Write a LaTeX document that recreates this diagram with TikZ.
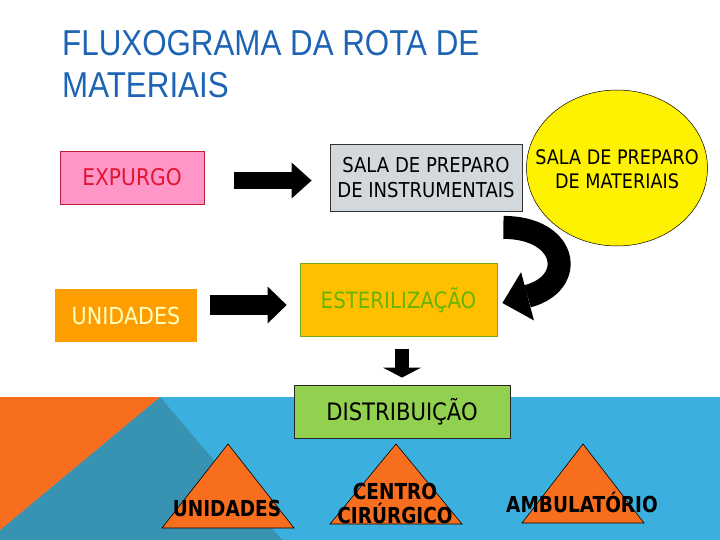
\documentclass[tikz,border=0pt]{standalone}
\usepackage{fontspec}
\usetikzlibrary{shapes.geometric,arrows.meta,calc}

\newfontfamily\titlefont[FakeStretch=0.87]{Liberation Sans}
\newfontfamily\boxfont[FakeStretch=0.88]{DejaVu Sans}
\newfontfamily\trifont[FakeStretch=0.84]{DejaVu Sans}
\newcommand{\fsz}[2]{\fontsize{#1}{#2}\selectfont}

\definecolor{titleblue}{RGB}{30,100,180}
\definecolor{bandblue}{RGB}{59,176,222}
\definecolor{bandteal}{RGB}{56,146,178}
\definecolor{bandorange}{RGB}{247,110,30}
\definecolor{pinkfill}{RGB}{255,150,200}
\definecolor{pinkline}{RGB}{190,30,60}
\definecolor{pinktext}{RGB}{225,20,50}
\definecolor{grayfill}{RGB}{210,216,220}
\definecolor{orangefill}{RGB}{255,158,0}
\definecolor{palecream}{RGB}{255,255,190}
\definecolor{amberfill}{RGB}{255,192,0}
\definecolor{greenline}{RGB}{110,170,30}
\definecolor{greentext}{RGB}{100,180,0}
\definecolor{limefill}{RGB}{146,208,80}

\begin{document}
\begin{tikzpicture}[
        x=1pt, y=-1pt,
        box/.style={rectangle, draw, line width=0.8pt, inner sep=0pt, align=center},
        bigarrow/.style n args={2}{black, -{Triangle[width=#1pt, length=#2pt, line width=0pt]}},
        tri/.style={fill=bandorange, draw=black, line width=0.6pt},
        tritext/.style={font=\trifont\bfseries\fsz{22}{24}, align=center, inner sep=0pt}
    ]
    \useasboundingbox (0,0) rectangle (720,540);

% --- Background band ---
    \fill[bandblue] (0,397) rectangle (720,540);
    \fill[bandteal] (160,397) -- (282,540) -- (0,540) -- (0,530) -- cycle;
    \fill[bandorange] (0,397) -- (160,397) -- (0,530) -- cycle;

% --- Title ---
    \node[anchor=north west, inner sep=0pt, align=left, text=titleblue,
          font=\titlefont\fsz{36}{42}] (title) at (62,30)
        {FLUXOGRAMA DA ROTA DE\\MATERIAIS};

% --- Top row ---
    \node[box, fill=pinkfill, draw=pinkline, text=pinktext, font=\boxfont\fsz{23}{27},
          minimum width=144pt, minimum height=53pt] (expurgo) at (132,177.5) {EXPURGO};
    \node[box, fill=grayfill, draw=black!80, font=\boxfont\fsz{20.5}{25},
          minimum width=192pt, minimum height=67pt] (sala) at (426,177.5)
        {SALA DE PREPARO\\DE INSTRUMENTAIS};
    \node[ellipse, draw, line width=0.5pt, fill=yellow, inner sep=0pt,
          minimum width=181pt, minimum height=156pt,
          label={[font=\boxfont\fsz{20}{24}, align=center, inner sep=0pt, yshift=-1pt]center:SALA DE PREPARO\\DE MATERIAIS}]
          (materiais) at (617,168) {};

% --- Middle row ---
    \node[box, draw=none, fill=orangefill, text=palecream, font=\boxfont\fsz{23.5}{27},
          minimum width=142pt, minimum height=53pt] (unidades) at (126,315.5) {UNIDADES};
    \node[box, fill=amberfill, draw=greenline, text=greentext, font=\boxfont\fsz{22.5}{27},
          minimum width=197pt, minimum height=73pt] (ester) at (398.5,300) {ESTERILIZAÇÃO};
    \node[box, fill=limefill, draw=black!85, font=\boxfont\fsz{24}{27},
          minimum width=216pt, minimum height=53pt] (distrib) at (402,411.5) {DISTRIBUIÇÃO};

% --- Arrows ---
    \draw[bigarrow={36}{20}, line width=17pt, shorten <=30pt, shorten >=18pt]
        ([yshift=-3pt]expurgo.east) -- ([yshift=-3pt]sala.west);
    \draw[bigarrow={37}{19}, line width=20pt, shorten <=13pt, shorten >=13pt]
        ([yshift=10.5pt]unidades.east) -- ([yshift=-5pt]ester.west);
    \draw[bigarrow={38}{10}, line width=14pt, shorten <=12pt, shorten >=7pt]
        (ester.south -| distrib.north) -- (distrib.north);
    \draw[bigarrow={50}{26}, line width=23pt]
        ([shift={(-19,16)}]sala.south east) .. controls +(64,0) and +(75,-20) .. ([shift={(5,3)}]ester.east);

% --- Destinations ---
    \draw[tri] (162,528) -- (228,444) -- (294,528) -- cycle;
    \draw[tri] (330,524) -- (396,444) -- (462,524) -- cycle;
    \draw[tri] (522,523) -- (583,444) -- (644,523) -- cycle;
    \node[tritext] (dest1) at (227,508) {UNIDADES};
    \node[tritext] (dest2) at (395,503) {CENTRO\\CIRÚRGICO};
    \node[tritext] (dest3) at (582,502) {AMBULATÓRIO};

\end{tikzpicture}
\end{document}
